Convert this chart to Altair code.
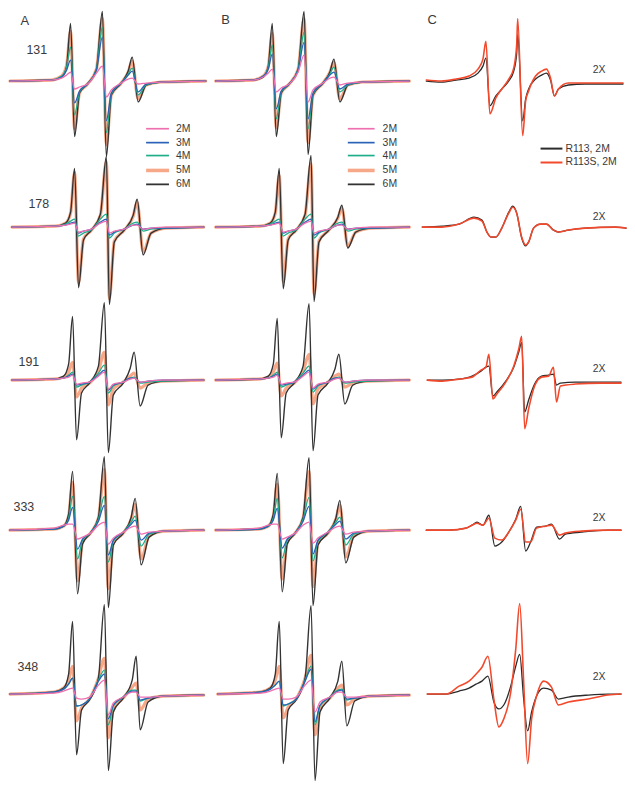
import altair as alt
import pandas as pd

# ---------------- text ----------------
COLUMN_LETTERS = ["A", "B", "C"]
SITE_LABELS = ["131", "178", "191", "333", "348"]
CONCENTRATIONS = ["2M", "3M", "4M", "5M", "6M"]
MUTANTS = ["R113, 2M", "R113S, 2M"]
GAIN_LABEL = "2X"

# ---------------- spectra, columns A and B (field in a.u., signal in a.u.) ----------------
A_FIELD_1 = [0, 42, 52, 57, 61, 65, 70, 78, 87, 93, 97, 102, 112, 119, 123, 129, 137, 152, 197]
A_FIELD_2 = [2, 46, 56, 61, 65, 69, 74, 82, 91, 97, 100, 105, 115, 124, 128, 134, 142, 157, 195]
A_FIELD_3 = [2, 44, 54, 59, 63, 67, 72, 80, 89, 95, 99, 104, 114, 121, 125, 131, 139, 154, 195]
A_FIELD_4 = [0, 44, 54, 59, 63, 68, 73, 81, 89, 95, 99, 104, 114, 122, 126, 132, 140, 155, 195]
A_FIELD_5 = [0, 44, 54, 59, 63, 67, 72, 80, 89, 95, 99, 104, 114, 123, 127, 131, 139, 154, 195]

A1_2M = [0, 1, 3, 6, 9, -8, -6, -3, 8, 15, -16, -9, -2, 2, 3, -3, -2, -1, 0]
A1_3M = [0, 1, 4, 11, 21, -22, -10, -3, 11, 44, -40, -12, -2, 6, 10, -11, -3, -1, 0]
A1_4M = [0, 1, 5, 14, 34, -34, -11, -3, 12, 54, -52, -13, -2, 7, 13, -14, -4, -1, 0]
A1_5M = [0, 1, 5, 16, 50, -48, -12, -3, 12, 63, -64, -14, -2, 9, 20, -18, -4, -1, 0]
A1_6M = [0, 1, 4, 15, 58, -56, -12, -3, 12, 70, -76, -14, -2, 10, 24, -21, -4, -1, 0]

A2_2M = [0, 1, 2, 3, 4, -5, -4, -2, 4, 6, -6, -4, -2, 2, 2, -2, -1, 0, 0]
A2_3M = [0, 1, 2, 4, 5, -6, -4, -2, 5, 8, -8, -5, -2, 2, 3, -2, -1, -1, 0]
A2_4M = [0, 1, 3, 6, 8, -9, -6, -3, 8, 13, -11, -6, -2, 4, 5, -4, -2, -1, 0]
A2_5M = [0, 1, 4, 14, 55, -56, -12, -3, 12, 66, -72, -14, -3, 11, 25, -25, -6, -1, 0]
A2_6M = [0, 1, 4, 15, 59, -61, -13, -3, 13, 71, -78, -15, -3, 12, 28, -28, -6, -1, 0]

A3_2M = [0, 1, 2, 3, 5, -4, -3, -2, 4, 8, -9, -4, -2, 1, 2, -2, -1, 0, 0]
A3_3M = [0, 1, 2, 4, 6, -5, -4, -2, 5, 10, -10, -5, -2, 2, 2, -2, -1, 0, 0]
A3_4M = [0, 1, 2, 5, 8, -7, -5, -2, 7, 15, -13, -6, -2, 2, 3, -3, -2, -1, 0]
A3_5M = [0, 1, 3, 8, 18, -17, -8, -3, 9, 28, -25, -9, -2, 4, 7, -8, -3, -1, 0]
A3_6M = [0, 1, 4, 16, 64, -60, -13, -3, 14, 78, -73, -15, -3, 12, 28, -26, -5, -1, 0]

A4_2M = [0, 2, 5, 6, 6, -9, -7, -3, 5, 8, -14, -8, -2, 3, 4, -4, -2, -1, 0]
A4_3M = [0, 1, 4, 10, 23, -19, -9, -3, 9, 25, -25, -10, -2, 6, 10, -10, -3, -1, 0]
A4_4M = [0, 1, 4, 12, 34, -29, -10, -3, 11, 34, -32, -11, -2, 8, 14, -16, -4, -1, 0]
A4_5M = [0, 1, 4, 14, 48, -51, -12, -3, 12, 61, -59, -13, -3, 11, 26, -29, -6, -1, 0]
A4_6M = [0, 1, 4, 16, 59, -64, -14, -3, 13, 74, -78, -15, -3, 13, 32, -35, -7, -1, 0]

A5_2M = [0, 1, 3, 5, 6, -4, -5, -3, 9, 14, -21, -9, -3, 2, 2, -3, -3, -2, -1]
A5_3M = [0, 2, 5, 10, 16, -12, -11, -5, 13, 20, -25, -11, -3, 3, 3, -6, -4, -2, -1]
A5_4M = [0, 2, 5, 10, 16, -12, -11, -5, 14, 24, -31, -12, -3, 4, 4, -7, -4, -2, -1]
A5_5M = [0, 2, 6, 14, 28, -27, -14, -5, 16, 36, -44, -15, -4, 7, 11, -16, -5, -2, -1]
A5_6M = [0, 2, 6, 20, 73, -61, -16, -6, 16, 90, -77, -18, -4, 14, 38, -36, -8, -2, -1]

B_FIELD_1 = [4, 42, 52, 57, 61, 65, 70, 78, 87, 93, 97, 102, 112, 119, 123, 129, 137, 152, 199]
B_FIELD_2 = [4, 49, 59, 64, 68, 72, 77, 85, 94, 100, 103, 108, 118, 127, 131, 137, 145, 160, 199]
B_FIELD_3 = [4, 47, 57, 62, 66, 70, 75, 83, 92, 98, 102, 107, 117, 124, 128, 134, 142, 157, 199]
B_FIELD_4 = [4, 47, 57, 62, 66, 71, 76, 84, 92, 98, 102, 107, 117, 125, 129, 135, 143, 158, 199]
B_FIELD_5 = [6, 49, 59, 64, 68, 72, 77, 85, 94, 100, 104, 109, 119, 127, 131, 136, 144, 159, 199]

B1_2M = [0, 1, 4, 8, 12, -11, -7, -3, 9, 26, -21, -9, -2, 3, 4, -4, -2, -1, 0]
B1_3M = [0, 1, 5, 12, 27, -28, -10, -3, 11, 39, -38, -12, -2, 6, 9, -8, -3, -1, 0]
B1_4M = [0, 1, 5, 14, 36, -38, -11, -3, 12, 49, -48, -13, -2, 7, 14, -11, -4, -1, 0]
B1_5M = [0, 1, 5, 15, 48, -47, -12, -3, 12, 63, -62, -14, -2, 9, 19, -18, -4, -1, 0]
B1_6M = [0, 1, 4, 15, 58, -56, -12, -3, 12, 70, -74, -14, -2, 9, 22, -21, -4, -1, 0]

B2_2M = [0, 1, 2, 3, 4, -5, -4, -2, 4, 6, -6, -4, -2, 2, 2, -2, -1, 0, 0]
B2_3M = [0, 1, 2, 4, 5, -6, -4, -2, 5, 8, -8, -5, -2, 2, 3, -2, -1, -1, 0]
B2_4M = [0, 1, 3, 6, 8, -9, -6, -3, 8, 13, -11, -6, -2, 4, 5, -4, -2, -1, 0]
B2_5M = [0, 1, 4, 14, 52, -55, -12, -3, 12, 64, -68, -14, -3, 9, 19, -19, -5, -1, 0]
B2_6M = [0, 1, 4, 15, 59, -62, -13, -3, 13, 72, -75, -15, -3, 10, 22, -21, -5, -1, 0]

B3_2M = [0, 1, 2, 3, 5, -4, -3, -2, 4, 8, -8, -4, -2, 1, 2, -2, -1, 0, 0]
B3_3M = [0, 1, 2, 4, 6, -5, -4, -2, 5, 10, -9, -5, -2, 2, 2, -2, -1, 0, 0]
B3_4M = [0, 1, 2, 5, 8, -7, -5, -2, 7, 14, -12, -6, -2, 2, 3, -3, -2, -1, 0]
B3_5M = [0, 1, 3, 8, 17, -16, -8, -3, 9, 26, -24, -9, -2, 4, 6, -7, -3, -1, 0]
B3_6M = [0, 1, 4, 16, 62, -58, -13, -3, 14, 77, -71, -15, -3, 11, 26, -24, -5, -1, 0]

B4_2M = [0, 2, 5, 6, 6, -9, -7, -3, 5, 8, -13, -8, -2, 3, 4, -4, -2, -1, 0]
B4_3M = [0, 1, 4, 10, 22, -18, -9, -3, 9, 24, -24, -10, -2, 6, 9, -9, -3, -1, 0]
B4_4M = [0, 1, 4, 12, 32, -28, -10, -3, 11, 33, -31, -11, -2, 8, 13, -15, -4, -1, 0]
B4_5M = [0, 1, 4, 14, 46, -49, -12, -3, 12, 59, -57, -13, -3, 11, 25, -27, -6, -1, 0]
B4_6M = [0, 1, 4, 16, 57, -62, -14, -3, 13, 73, -76, -15, -3, 12, 30, -33, -7, -1, 0]

B5_2M = [0, 1, 3, 5, 6, -5, -5, -3, 9, 14, -18, -8, -3, 2, 2, -3, -3, -2, -1]
B5_3M = [0, 2, 5, 9, 13, -11, -10, -5, 13, 25, -28, -11, -3, 3, 4, -5, -4, -2, -1]
B5_4M = [0, 2, 5, 9, 13, -12, -10, -5, 14, 28, -31, -12, -3, 4, 5, -6, -4, -2, -1]
B5_5M = [0, 2, 6, 14, 28, -24, -13, -5, 16, 39, -41, -14, -4, 6, 9, -11, -5, -2, -1]
B5_6M = [0, 2, 6, 20, 73, -70, -16, -6, 16, 89, -87, -18, -4, 13, 33, -32, -7, -2, -1]

# ---------------- spectra, column C ----------------
C_FIELD_1 = [0, 15, 30, 43, 52, 57, 60, 64, 70, 76, 83, 88, 91, 92, 97, 100, 103, 110, 116, 121, 125, 129, 133, 143, 160, 198]
C1_R113 = [0, -1, 1, 3, 8, 15, 23, -25, -15, -8, 0, 10, 28, 47, -40, -18, -8, 2, 6, 8, 1, -15, -8, -4, -3, -3]
C1_R113S = [1, 0, 2, 5, 12, 22, 40, -33, -17, -8, 2, 13, 37, 63, -55, -20, -10, 5, 10, 12, 3, -15, -8, -2, -2, -2]

C_FIELD_2 = [-4, 16, 33, 48, 56, 61, 65, 70, 76, 83, 87, 91, 96, 100, 103, 108, 115, 121, 128, 133, 143, 160, 190, 201]
C2_R113 = [0, 1, 3, 10, 7, -5, -10, -10, -1, 15, 21, 14, -11, -19, -15, -1, 3, 3, -3, -5, -3, -1, 0, -1]
C2_R113S = [0, 0, 3, 9, 6, -5, -10, -10, -1, 14, 20, 14, -10, -18, -15, -1, 3, 3, -3, -5, -3, -1, 0, -1]

C_FIELD_3 = [1, 16, 33, 46, 55, 60, 63, 67, 71, 80, 88, 93, 96, 99, 103, 109, 116, 123, 128, 131, 135, 150, 176, 196]
C3_R113 = [0, 0, 1, 4, 9, 13, 14, -16, -12, -1, 13, 28, 38, -32, -20, -4, 4, 5, 6, -5, -3, -2, -2, -2]
C3_R113S = [0, -1, 1, 3, 10, 13, 26, -19, -14, -2, 14, 31, 44, -49, -29, -6, 3, 4, 13, -22, -6, -4, -3, -3]

C_FIELD_4 = [0, 23, 40, 46, 51, 57, 63, 69, 76, 83, 90, 95, 100, 105, 111, 120, 126, 134, 140, 156, 183, 196]
C4_R113 = [0, 0, 2, 5, 8, 5, 15, -16, -12, -2, 11, 24, -21, -12, 3, 4, 6, -9, -4, -2, 0, 0]
C4_R113S = [0, 0, 2, 5, 7, 5, 12, -8, -10, -2, 10, 21, -12, -12, 2, 4, 5, -5, -3, -1, 0, 0]

C_FIELD_5 = [1, 20, 33, 43, 50, 56, 62, 68, 73, 78, 85, 90, 94, 98, 102, 106, 111, 118, 126, 133, 143, 163, 183, 196]
C5_R113 = [0, 0, 3, 6, 10, 13, 18, -8, -15, -11, 8, 28, 40, -5, -37, -18, -2, 6, 4, -5, -3, -1, 0, 0]
C5_R113S = [0, 0, 8, 13, 20, 27, 38, -5, -33, -25, 2, 45, 91, 12, -70, -25, -2, 13, 7, -11, -8, -5, -1, 0]

# ---------------- assembly tables ----------------
A_FIELDS = [A_FIELD_1, A_FIELD_2, A_FIELD_3, A_FIELD_4, A_FIELD_5]
B_FIELDS = [B_FIELD_1, B_FIELD_2, B_FIELD_3, B_FIELD_4, B_FIELD_5]
C_FIELDS = [C_FIELD_1, C_FIELD_2, C_FIELD_3, C_FIELD_4, C_FIELD_5]
A_SPECTRA = [
    [A1_2M, A1_3M, A1_4M, A1_5M, A1_6M],
    [A2_2M, A2_3M, A2_4M, A2_5M, A2_6M],
    [A3_2M, A3_3M, A3_4M, A3_5M, A3_6M],
    [A4_2M, A4_3M, A4_4M, A4_5M, A4_6M],
    [A5_2M, A5_3M, A5_4M, A5_5M, A5_6M],
]
B_SPECTRA = [
    [B1_2M, B1_3M, B1_4M, B1_5M, B1_6M],
    [B2_2M, B2_3M, B2_4M, B2_5M, B2_6M],
    [B3_2M, B3_3M, B3_4M, B3_5M, B3_6M],
    [B4_2M, B4_3M, B4_4M, B4_5M, B4_6M],
    [B5_2M, B5_3M, B5_4M, B5_5M, B5_6M],
]
C_SPECTRA = [
    [C1_R113, C1_R113S],
    [C2_R113, C2_R113S],
    [C3_R113, C3_R113S],
    [C4_R113, C4_R113S],
    [C5_R113, C5_R113S],
]

# ---------------- styles / layout ----------------
CONC_COLORS = ["#ef70b1", "#2a62b8", "#1fae8a", "#f7a888", "#333333"]
CONC_WIDTHS = [1.3, 1.3, 1.3, 3.2, 1.4]
CONC_DRAW_ORDER = [3, 4, 2, 1, 0]
MUT_COLORS = ["#2b2b2b", "#f2492c"]
MUT_WIDTHS = [1.3, 1.6]
PANEL_W = [203, 216, 198]
ROW_H = [150, 147, 153, 150, 174]
ROW_TOP = [71, 68, 75, 73, 88]
FONT = "Liberation Sans"
TEXT_COLOR = "#3a3a3a"

SITE_POS = [(27, 31), (29, 23), (19, 18), (14, 23), (18, 27)]
LETTER_POS = [(15, 60), (14, 61), (6, 61)]
GAIN_POS_X = 174
GAIN_POS_Y = [11, 10, 11, 12, 17]
CONC_LEGEND_Y = [-48, -62, -75, -90, -104]
CONC_LEGEND_X = [(137, 160, 167), (137, 164, 172)]
MUT_LEGEND_Y = [-68, -82]
MUT_LEGEND_X = (115, 137, 140)


def xs(c):
    return alt.Scale(domain=[0, PANEL_W[c]], nice=False, zero=False)


def ys(r):
    return alt.Scale(domain=[ROW_TOP[r] - ROW_H[r], ROW_TOP[r]], nice=False, zero=False)


def line_layer(field, signal, color, width, c, r):
    df = pd.DataFrame({"field": field, "signal": signal})
    return alt.Chart(df).mark_line(
        interpolate="monotone", color=color, strokeWidth=width,
        strokeJoin="round", strokeCap="round"
    ).encode(
        x=alt.X("field:Q", scale=xs(c), axis=None),
        y=alt.Y("signal:Q", scale=ys(r), axis=None),
        order=alt.Order("field:Q"),
    )


def text_layer(items, c, r, size, align="center"):
    df = pd.DataFrame(items, columns=["field", "signal", "label"])
    return alt.Chart(df).mark_text(
        font=FONT, fontSize=size, color=TEXT_COLOR, align=align, baseline="middle"
    ).encode(
        x=alt.X("field:Q", scale=xs(c), axis=None),
        y=alt.Y("signal:Q", scale=ys(r), axis=None),
        text="label:N",
    )


def rule_layer(x1, x2, y, color, width, c, r):
    df = pd.DataFrame({"field": [x1], "field2": [x2], "signal": [y]})
    return alt.Chart(df).mark_rule(color=color, strokeWidth=width).encode(
        x=alt.X("field:Q", scale=xs(c), axis=None),
        x2="field2:Q",
        y=alt.Y("signal:Q", scale=ys(r), axis=None),
    )


def panel(c, r):
    layers = []
    if c < 2:
        fields = (A_FIELDS if c == 0 else B_FIELDS)[r]
        spectra = (A_SPECTRA if c == 0 else B_SPECTRA)[r]
        for k in CONC_DRAW_ORDER:
            layers.append(line_layer(fields, spectra[k], CONC_COLORS[k], CONC_WIDTHS[k], c, r))
    else:
        for k in range(2):
            layers.append(line_layer(C_FIELDS[r], C_SPECTRA[r][k], MUT_COLORS[k], MUT_WIDTHS[k], c, r))
        layers.append(text_layer([(GAIN_POS_X, GAIN_POS_Y[r], GAIN_LABEL)], c, r, 10.5))
    if r == 0:
        layers.append(text_layer([(LETTER_POS[c][0], LETTER_POS[c][1], COLUMN_LETTERS[c])], c, r, 13))
        if c < 2:
            x1, x2, xt = CONC_LEGEND_X[c]
            for k in range(5):
                layers.append(rule_layer(x1, x2, CONC_LEGEND_Y[k], CONC_COLORS[k], CONC_WIDTHS[k] + 0.4, c, r))
            layers.append(text_layer(
                [(xt, CONC_LEGEND_Y[k], CONCENTRATIONS[k]) for k in range(5)], c, r, 10.5, align="left"))
        else:
            x1, x2, xt = MUT_LEGEND_X
            for k in range(2):
                layers.append(rule_layer(x1, x2, MUT_LEGEND_Y[k], MUT_COLORS[k], 2, c, r))
            layers.append(text_layer(
                [(xt, MUT_LEGEND_Y[k], MUTANTS[k]) for k in range(2)], c, r, 10.5, align="left"))
    if c == 0:
        layers.append(text_layer([(SITE_POS[r][0], SITE_POS[r][1], SITE_LABELS[r])], c, r, 12.5))
    return alt.layer(*layers).properties(width=PANEL_W[c], height=ROW_H[r])


panels = [panel(c, r) for r in range(5) for c in range(3)]
chart = alt.concat(*panels, columns=3, spacing=0, bounds="flush").properties(
    padding=0, background="white"
).configure_view(stroke=None)

chart.save("out.html", embed_options={"renderer": "svg", "actions": False})
